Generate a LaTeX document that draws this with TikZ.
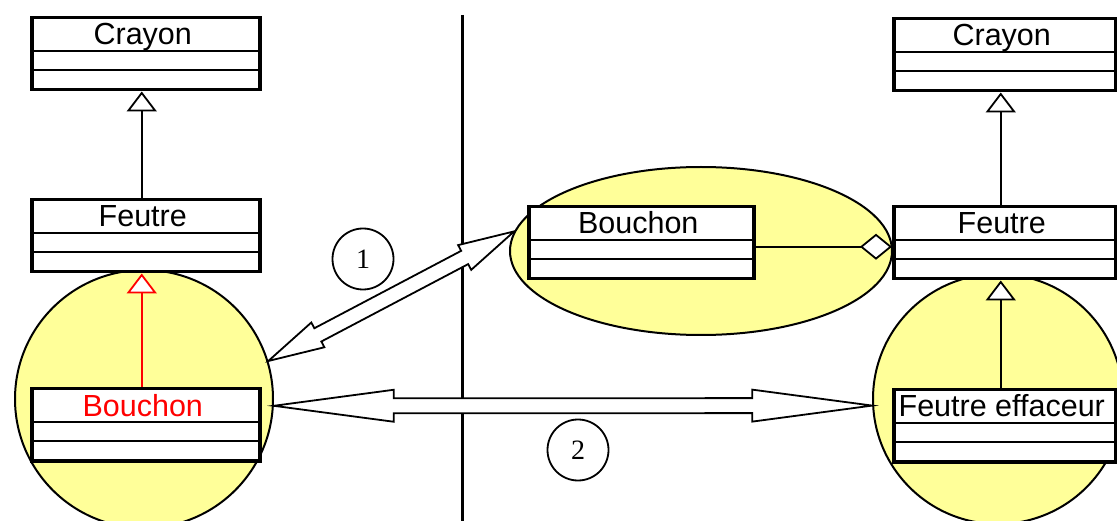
\documentclass[tikz,border=0pt]{standalone}
\usepackage{fontspec}
\setmainfont{Liberation Sans}
\newfontfamily\chiffres{Liberation Serif}
\usetikzlibrary{arrows.meta,calc,shapes.geometric}
\definecolor{jaune}{RGB}{255,255,153}

% fleche double creuse : depart, arrivee, longueur tete, demi-largeur tete, demi-largeur corps
\newcommand{\flechedouble}[5]{%
  \coordinate (t1) at ($(#1)!#3!(#2)$);
  \coordinate (t2) at ($(#2)!#3!(#1)$);
  \draw[fleche] (#1) -- ($(t1)!#4!90:(#2)$) -- ($(t1)!#5!90:(#2)$)
    -- ($(t2)!#5!-90:(#1)$) -- ($(t2)!#4!-90:(#1)$) -- (#2)
    -- ($(t2)!#4!90:(#1)$) -- ($(t2)!#5!90:(#1)$)
    -- ($(t1)!#5!-90:(#2)$) -- ($(t1)!#4!-90:(#2)$) -- cycle;
}

\begin{document}
\begin{tikzpicture}[x=1pt, y=-1pt,
        classe/.style={draw, line width=3.5pt, fill=white, minimum height=72pt, anchor=north west, inner sep=0pt},
        separation/.style={line width=1.8pt},
        titre/.style={anchor=base, font=\fontsize{30.5}{35}\selectfont},
        zone/.style={draw, line width=2pt, fill=jaune, inner sep=0pt},
        heritage/.style={line width=2pt, -{Triangle[length=20pt, width=30pt, fill=white, line width=1.8pt]}},
        agregation/.style={line width=2pt, -{Diamond[length=32pt, width=26pt, fill=white, line width=1.8pt]}},
        fleche/.style={line width=1.8pt, fill=white, line join=miter},
        numero/.style={circle, draw, line width=1.8pt, minimum size=61pt, inner sep=0pt, font=\chiffres\fontsize{28}{30}\selectfont}
    ]
    \useasboundingbox (0,0) rectangle (1117,521);
    \clip (0,0) rectangle (1117,521);

    % Zones jaunes
    \node[zone, circle, minimum size=258pt] (cercleG) at (144,399) {};
    \node[zone, ellipse, minimum width=382pt, minimum height=168pt] (bulle) at (701,251) {};
    \node[zone, circle, minimum size=250pt] (cercleD) at (998,399) {};

    % Separation verticale
    \draw[line width=3pt] (462,15) -- (462,521);

    % Fleches 1 et 2
    \flechedouble{cercleG.17}{bulle.174}{56pt}{14pt}{7.5pt}
    \flechedouble{cercleG.-3}{cercleD.183}{120pt}{16pt}{7.5pt}

    % Classes
    \foreach \nom/\x/\y/\w/\titre/\coul in {crayonG/30/16/228/Crayon/black,
            feutreG/30/198/228/Feutre/black, bouchonG/30/387/228/Bouchon/red,
            bouchonM/527/205/225/Bouchon/black, crayonD/892/17/222/Crayon/black,
            feutreD/892/205/222/Feutre/black, effaceur/892/388/222/Feutre effaceur/black}{
        \node[classe, minimum width=\w pt] (\nom) at (\x,\y) {};
        \draw[separation] ($(\nom.north west)+(0,35)$) -- ($(\nom.north east)+(0,35)$);
        \draw[separation] ($(\nom.north west)+(0,54)$) -- ($(\nom.north east)+(0,54)$);
        \node[titre, text=\coul] (\nom-titre) at ($(\nom.north)+(-3,29)$) {\titre};
    }

    % Heritages
    \draw[heritage] ([xshift=-4pt]feutreG.north) -- ([xshift=-4pt]crayonG.south);
    \draw[heritage, red] ([xshift=-4pt]bouchonG.north) -- ([xshift=-4pt]feutreG.south);
    \draw[heritage] ([xshift=-4pt]feutreD.north) -- ([xshift=-4pt]crayonD.south);
    \draw[heritage] ([xshift=-4pt]effaceur.north) -- ([xshift=-4pt]feutreD.south);

    % Agregation
    \draw[agregation] ([yshift=-4pt]bouchonM.east) -- ([yshift=-4pt]feutreD.west);

    % Numeros
    \node[numero] (num1) at (363,259) {1};
    \node[numero] (num2) at (578,450) {2};
\end{tikzpicture}
\end{document}
